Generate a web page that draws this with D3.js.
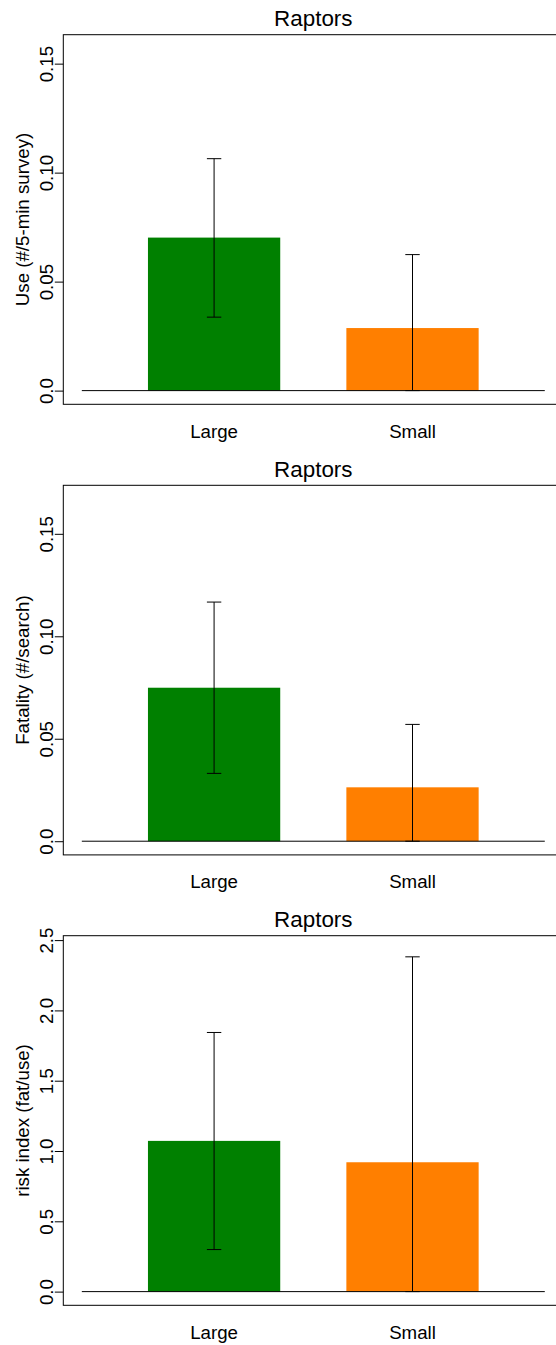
<!DOCTYPE html>
<html>
<head>
<meta charset="utf-8">
<script src="https://cdn.jsdelivr.net/npm/d3@7"></script>
<style>
  body { margin: 0; background: #fff; }
  svg { display: block; font-family: "Liberation Sans", Arial, Helvetica, sans-serif; }
</style>
</head>
<body>
<div id="chart"></div>
<script>
// data
const categories = ['Large', 'Small'];
const barColors = ['#008000', '#ff7f00'];

const useMean = [0.0702, 0.0287];
const useLo = [0.0337, 0.0];
const useHi = [0.1064, 0.0624];

const fatMean = [0.0749, 0.0263];
const fatLo = [0.0331, 0.0];
const fatHi = [0.1167, 0.0570];

const riskMean = [1.072, 0.920];
const riskLo = [0.299, 0.0];
const riskHi = [1.843, 2.381];

const smallTicks = [0, 0.05, 0.1, 0.15];
const smallTickLabels = ['0.0', '0.05', '0.10', '0.15'];
const riskTicks = [0, 0.5, 1, 1.5, 2, 2.5];
const riskTickLabels = ['0.0', '0.5', '1.0', '1.5', '2.0', '2.5'];

const panels = [
  { title: 'Raptors', ylab: 'Use (#/5-min survey)', mean: useMean, lo: useLo, hi: useHi, ymax: 0.157, ticks: smallTicks, labels: smallTickLabels },
  { title: 'Raptors', ylab: 'Fatality (#/search)', mean: fatMean, lo: fatLo, hi: fatHi, ymax: 0.167, ticks: smallTicks, labels: smallTickLabels },
  { title: 'Raptors', ylab: 'risk index (fat/use)', mean: riskMean, lo: riskLo, hi: riskHi, ymax: 2.434, ticks: riskTicks, labels: riskTickLabels },
];

const WIDTH = 556;
const HEIGHT = 1345;
const PANEL_TOPS = [34.7, 485.3, 935.7];
const PLOT_H = 369.6;
const PLOT_LEFT = 63.3;
const PLOT_RIGHT = 563.3;
const AXIS_FONT = 18.7;
const TITLE_FONT = 22.4;
const CAP = 7.2;

const svg = d3
  .select('#chart')
  .append('svg')
  .attr('width', WIDTH)
  .attr('height', HEIGHT);

// x in barplot units: bars of width 1 with space 0.5, xlim [0, 3.5] + 4%
const scaleX = d3.scaleLinear().domain([-0.14, 3.64]).range([PLOT_LEFT, PLOT_RIGHT]);
const barLeft = (i) => 0.5 + i * 1.5;
const barMid = (i) => barLeft(i) + 0.5;

panels.forEach((p, k) => {
  const top = PANEL_TOPS[k];
  const bottom = top + PLOT_H;
  const scaleY = d3
    .scaleLinear()
    .domain([-0.04 * p.ymax, 1.04 * p.ymax])
    .range([bottom, top]);

  const g = svg.append('g');

  // bars
  g.selectAll('.bar')
    .data(categories)
    .join('rect')
    .attr('class', 'bar')
    .attr('x', (d, i) => scaleX(barLeft(i)))
    .attr('width', (d, i) => scaleX(barLeft(i) + 1) - scaleX(barLeft(i)))
    .attr('y', (d, i) => scaleY(p.mean[i]))
    .attr('height', (d, i) => scaleY(0) - scaleY(p.mean[i]))
    .attr('fill', (d, i) => barColors[i]);

  // zero line
  g.append('line')
    .attr('x1', scaleX(0))
    .attr('x2', scaleX(3.5))
    .attr('y1', scaleY(0))
    .attr('y2', scaleY(0))
    .attr('stroke', '#000')
    .attr('stroke-width', 1);

  // error bars
  const err = g.selectAll('.err').data(categories).join('g').attr('class', 'err')
    .attr('stroke', '#000').attr('stroke-width', 1);
  err.append('line')
    .attr('x1', (d, i) => scaleX(barMid(i)))
    .attr('x2', (d, i) => scaleX(barMid(i)))
    .attr('y1', (d, i) => scaleY(p.lo[i]))
    .attr('y2', (d, i) => scaleY(p.hi[i]));
  err.append('line')
    .attr('x1', (d, i) => scaleX(barMid(i)) - CAP)
    .attr('x2', (d, i) => scaleX(barMid(i)) + CAP)
    .attr('y1', (d, i) => scaleY(p.hi[i]))
    .attr('y2', (d, i) => scaleY(p.hi[i]));
  err.append('line')
    .attr('x1', (d, i) => scaleX(barMid(i)) - CAP)
    .attr('x2', (d, i) => scaleX(barMid(i)) + CAP)
    .attr('y1', (d, i) => scaleY(p.lo[i]))
    .attr('y2', (d, i) => scaleY(p.lo[i]));

  // box
  g.append('rect')
    .attr('x', PLOT_LEFT)
    .attr('y', top)
    .attr('width', PLOT_RIGHT - PLOT_LEFT)
    .attr('height', PLOT_H)
    .attr('fill', 'none')
    .attr('stroke', '#000')
    .attr('stroke-width', 1);

  // y axis
  const axisY = d3
    .axisLeft(scaleY)
    .tickValues(p.ticks)
    .tickFormat((d, i) => p.labels[i])
    .tickSize(8.5)
    .tickSizeOuter(0);
  const gy = g.append('g')
    .attr('transform', `translate(${PLOT_LEFT},0)`)
    .call(axisY);
  gy.select('.domain').remove();
  gy.selectAll('line').attr('stroke', '#000');
  gy.selectAll('text')
    .attr('transform', 'rotate(-90)')
    .attr('x', 0)
    .attr('y', -10.8)
    .attr('dy', 0)
    .attr('text-anchor', 'middle')
    .attr('fill', '#000')
    .style('font-size', AXIS_FONT + 'px')
    .style('font-family', '"Liberation Sans", Arial, sans-serif');

  // y label
  g.append('text')
    .attr('transform', `translate(28.5,${(top + bottom) / 2}) rotate(-90)`)
    .attr('text-anchor', 'middle')
    .style('font-size', AXIS_FONT + 'px')
    .text(p.ylab);

  // x labels
  g.selectAll('.xlab')
    .data(categories)
    .join('text')
    .attr('class', 'xlab')
    .attr('x', (d, i) => scaleX(barMid(i)))
    .attr('y', bottom + 33.2)
    .attr('text-anchor', 'middle')
    .style('font-size', AXIS_FONT + 'px')
    .text((d) => d);

  // title
  g.append('text')
    .attr('x', (PLOT_LEFT + PLOT_RIGHT) / 2)
    .attr('y', top - 8.5)
    .attr('text-anchor', 'middle')
    .style('font-size', TITLE_FONT + 'px')
    .text(p.title);
});
</script>
</body>
</html>
